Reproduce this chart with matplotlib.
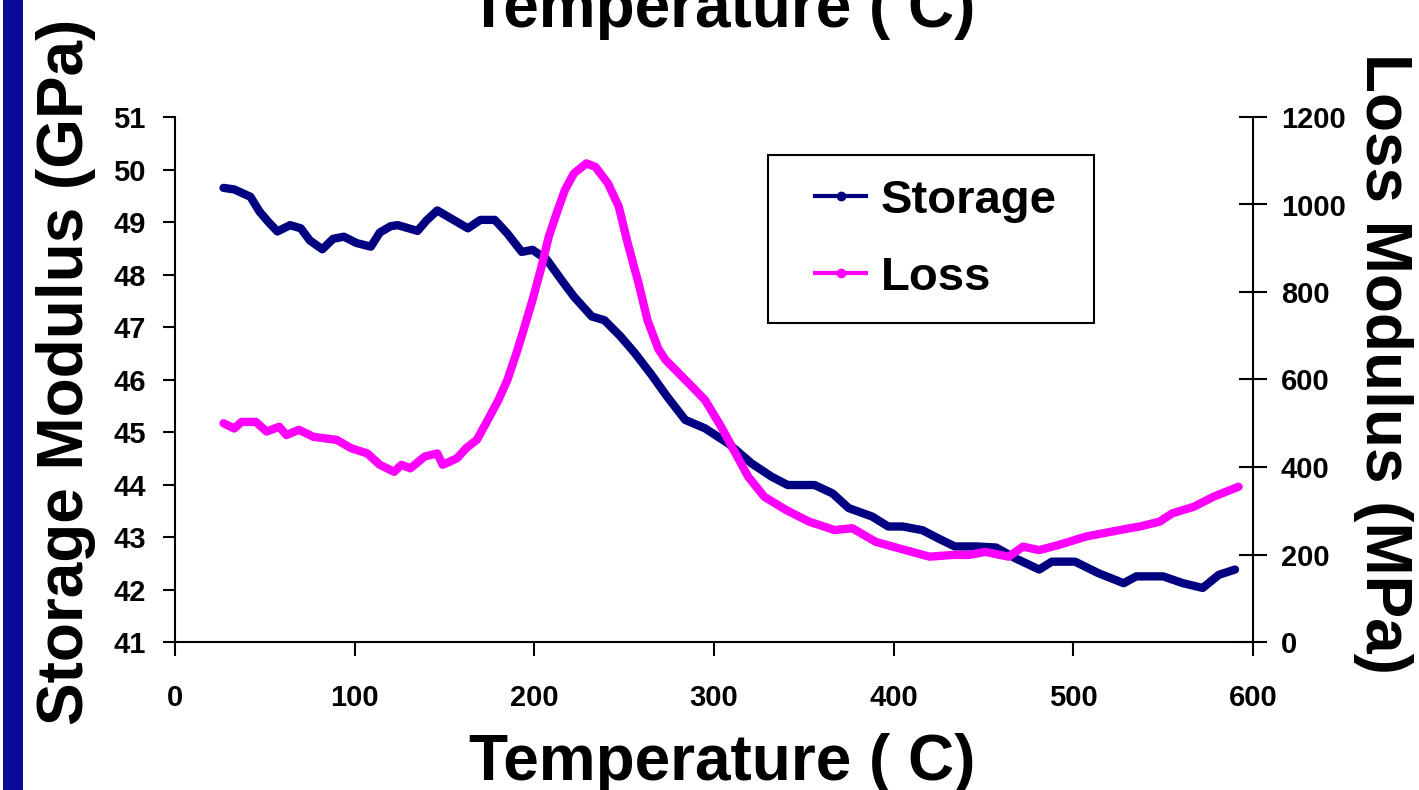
import matplotlib
matplotlib.use("Agg")
import matplotlib.pyplot as plt
from matplotlib.lines import Line2D
from matplotlib.patches import Rectangle
from matplotlib.legend_handler import HandlerLine2D

# Storage modulus (GPa) vs temperature (C)
storage_temp = [27, 33, 42, 47, 52, 57, 64, 70, 75, 82, 88, 94, 101, 109, 114,
                120, 124, 130, 135, 140, 146, 153, 158, 163, 170, 178, 185, 193,
                199, 207, 215, 222, 232, 239, 248, 256, 265, 274, 284, 295, 308,
                321, 332, 341, 356, 366, 375, 388, 397, 405, 416, 425, 434, 446,
                457, 468, 481, 488, 501, 514, 528, 535, 550, 561, 572, 581, 590]
storage_gpa = [49.65, 49.62, 49.48, 49.20, 49.00, 48.82, 48.94, 48.88, 48.65,
               48.48, 48.68, 48.72, 48.60, 48.53, 48.80, 48.92, 48.94, 48.88,
               48.83, 49.03, 49.22, 49.08, 48.98, 48.88, 49.04, 49.04, 48.78,
               48.43, 48.47, 48.28, 47.90, 47.58, 47.20, 47.13, 46.82, 46.50,
               46.10, 45.67, 45.23, 45.07, 44.78, 44.40, 44.15, 43.99, 43.99,
               43.83, 43.55, 43.39, 43.20, 43.20, 43.13, 42.97, 42.82, 42.82,
               42.80, 42.59, 42.38, 42.53, 42.53, 42.31, 42.12, 42.25, 42.25,
               42.12, 42.03, 42.28, 42.38]

# Loss modulus (MPa) vs temperature (C)
loss_temp = [27, 33, 37, 45, 51, 58, 62, 69, 77, 90, 98, 107, 114, 122, 126,
             131, 139, 146, 149, 157, 162, 168, 174, 180, 185, 190, 194, 199,
             204, 208, 213, 217, 222, 229, 234, 241, 247, 252, 258, 263, 269,
             273, 286, 295, 304, 312, 319, 328, 340, 353, 367, 377, 390, 403,
             420, 433, 442, 451, 464, 472, 481, 492, 507, 526, 537, 548, 555,
             567, 578, 592]
loss_mpa = [500, 488, 503, 503, 481, 492, 473, 485, 469, 462, 443, 431, 405,
            389, 405, 397, 424, 431, 405, 420, 443, 462, 507, 553, 599, 660,
            713, 782, 858, 926, 987, 1033, 1071, 1094, 1086, 1048, 995, 911,
            820, 735, 670, 645, 591, 553, 492, 431, 378, 332, 302, 275, 256,
            260, 229, 214, 195, 199, 199, 206, 195, 218, 210, 222, 241, 256,
            264, 275, 294, 309, 332, 355]

x_ticks = [0, 100, 200, 300, 400, 500, 600]
left_ticks = list(range(41, 52))
right_ticks = [0, 200, 400, 600, 800, 1000, 1200]

STORAGE_COLOR = "#000080"
LOSS_COLOR = "#FF00FF"

plt.rcParams["font.family"] = ["Liberation Sans", "DejaVu Sans"]
plt.rcParams["font.weight"] = "bold"

W, H = 1419, 790
fig = plt.figure(figsize=(W / 100, H / 100), dpi=100)
fig.patch.set_facecolor("white")

# blue bar down the left edge of the slide
fig.patches.append(Rectangle((3 / W, 0), 20 / W, 1, transform=fig.transFigure,
                             facecolor="#0A0A96", edgecolor="none"))

ax1 = fig.add_axes([175 / W, 1 - 642 / H, (1253 - 175) / W, (642 - 117) / H])
ax1.plot(storage_temp, storage_gpa, color=STORAGE_COLOR, linewidth=6,
         solid_capstyle="round", solid_joinstyle="round")
ax1.set_xlim(0, 600)
ax1.set_ylim(41, 51)
ax1.set_xticks(x_ticks)
ax1.set_yticks(left_ticks)
for side in ["top", "right"]:
    ax1.spines[side].set_visible(False)
for side in ["left", "bottom"]:
    ax1.spines[side].set_linewidth(1.5)
ax1.tick_params(axis="y", direction="out", length=9, width=1.5, pad=12,
                labelsize=21)
ax1.tick_params(axis="x", direction="out", length=10, width=1.5, pad=20,
                labelsize=21)

ax2 = ax1.twinx()
ax2.plot(loss_temp, loss_mpa, color=LOSS_COLOR, linewidth=6,
         solid_capstyle="round", solid_joinstyle="round")
ax2.set_ylim(0, 1200)
ax2.set_yticks(right_ticks)
for side in ["top", "left", "bottom"]:
    ax2.spines[side].set_visible(False)
ax2.spines["right"].set_linewidth(1.5)
ax2.tick_params(axis="y", direction="inout", length=20, width=1.5, pad=10,
                labelsize=21)

# Legend (box spans the same area as in the original slide)
handles = [
    Line2D([], [], color=STORAGE_COLOR, linewidth=3, marker="o", markersize=6),
    Line2D([], [], color=LOSS_COLOR, linewidth=3, marker="o", markersize=6),
]
leg = ax2.legend(handles, ["Storage", "Loss"], loc="upper left",
                 bbox_to_anchor=(768 / W, 1 - 315 / H, 326 / W, 160 / H),
                 bbox_transform=fig.transFigure, mode="expand",
                 borderaxespad=0, prop={"size": 34, "weight": "bold"},
                 handlelength=1.58, handletextpad=0.3, borderpad=0.5,
                 labelspacing=0.7, fancybox=False, framealpha=1,
                 edgecolor="black",
                 handler_map={Line2D: HandlerLine2D(xpad=0.5)})
leg.get_frame().set_linewidth(1.5)

# Axis titles
fig.text(722 / W, 1 - 27 / H, "Temperature ( C)", fontsize=46,
         fontweight="bold", ha="center", va="baseline")
fig.text(722 / W, 1 - 780 / H, "Temperature ( C)", fontsize=46,
         fontweight="bold", ha="center", va="baseline")
fig.text(66 / W, 1 - 372 / H, "Storage Modulus (GPa)", fontsize=46,
         fontweight="bold", ha="center", va="center", rotation=90)
fig.text(1383 / W, 1 - 363 / H, "Loss Modulus (MPa)", fontsize=46,
         fontweight="bold", ha="center", va="center", rotation=270)

fig.savefig("out.png", dpi=100)
